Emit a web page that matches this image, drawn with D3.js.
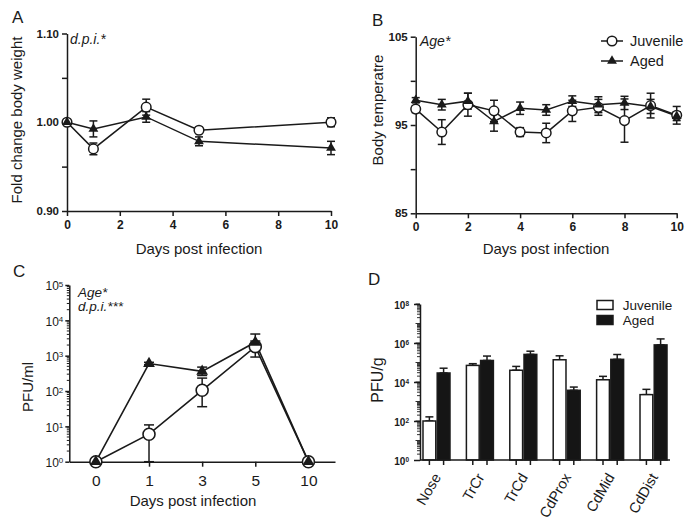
<!DOCTYPE html>
<html><head><meta charset="utf-8">
<script src="https://cdn.jsdelivr.net/npm/d3@7"></script>
<style>
body{margin:0;background:#fff}
svg{display:block}
text{font-family:"Liberation Sans",Arial,Helvetica,sans-serif;fill:#1a1a1a}
</style>
</head><body><svg id="c" width="685" height="523"></svg>
<script>
// ---------------- DATA ----------------
const weightDays = [0, 1, 3, 5, 10];
const weightJuvenile = [1.000, 0.970, 1.017, 0.991, 1.000];
const weightJuvenileErr = [0.002, 0.0066, 0.009, 0.003, 0.005];
const weightAged = [1.000, 0.9925, 1.006, 0.9785, 0.971];
const weightAgedErr = [0.002, 0.009, 0.006, 0.005, 0.0075];
const weightTicksX = [0, 2, 4, 6, 8, 10];
const weightTicksY = [0.90, 0.95, 1.00, 1.05, 1.10];
const weightLabelsY = ["0.90", "", "1.00", "", "1.10"];

const tempDays = [0, 1, 2, 3, 4, 5, 6, 7, 8, 9, 10];
const tempJuvenile = [96.8, 94.2, 97.3, 96.6, 94.2, 94.1, 96.6, 97.0, 95.5, 97.2, 96.1];
const tempJuvenileErr = [0.4, 1.4, 1.3, 1.2, 0.5, 1.1, 1.2, 0.9, 2.45, 1.4, 1.0];
const tempAged = [97.8, 97.3, 97.7, 95.4, 96.9, 96.7, 97.7, 97.3, 97.5, 97.1, 96.0];
const tempAgedErr = [0.3, 0.6, 0.9, 1.1, 0.7, 0.6, 0.6, 0.9, 0.75, 0.8, 0.5];
const tempTicksX = [0, 2, 4, 6, 8, 10];
const tempTicksY = [85, 90, 95, 100, 105];
const tempLabelsY = ["85", "", "95", "", "105"];

const pfuDays = ["0", "1", "3", "5", "10"];
const pfuJuvenile = [1, 6, 105, 1800, 1];
const pfuJuvenileLo = [1, 1, 36, 915, 1];
const pfuJuvenileHi = [1, 11, 232, 2600, 1];
const pfuAged = [1, 600, 360, 2400, 1];
const pfuAgedLo = [1, 560, 275, 1500, 1];
const pfuAgedHi = [1, 650, 475, 4100, 1];
const pfuDecades = [0, 1, 2, 3, 4, 5];

const organs = ["Nose", "TrCr", "TrCd", "CdProx", "CdMid", "CdDist"];
const organJuvenile = [100, 71000, 40000, 138000, 13000, 2250];
const organJuvenileHi = [163, 87000, 63000, 220000, 19500, 4200];
const organAged = [29000, 127000, 260000, 3750, 145000, 800000];
const organAgedHi = [51000, 214000, 380000, 5500, 257000, 1620000];
const organDecades = [0, 2, 4, 6, 8];
const groups = ["Juvenile", "Aged"];

// ---------------- HELPERS ----------------
const svg = d3.select("#c");
const INK = "#1a1a1a";

function styleAxis(sel, fontSize, weight) {
  sel.select(".domain").attr("stroke", INK).attr("stroke-width", 1.5);
  sel.selectAll(".tick line").attr("stroke", INK).attr("stroke-width", 1.5);
  sel.selectAll(".tick text").attr("font-size", fontSize).attr("font-weight", weight)
     .attr("fill", INK).attr("font-family", '"Liberation Sans",Arial,sans-serif');
}
function label(x, y, s, opt = {}) {
  const t = svg.append("text").attr("x", x).attr("y", y).text(s)
    .attr("font-size", opt.size || 15)
    .attr("text-anchor", opt.anchor || "start");
  if (opt.italic) t.attr("font-style", "italic");
  if (opt.weight) t.attr("font-weight", opt.weight);
  if (opt.rotate !== undefined) t.attr("transform", `rotate(${opt.rotate},${x},${y})`);
  return t;
}
function errBar(g, x, y1, y2, cap) {
  g.append("line").attr("x1", x).attr("x2", x).attr("y1", y1).attr("y2", y2)
    .attr("stroke", INK).attr("stroke-width", 1.5);
  [y1, y2].forEach(yy => g.append("line").attr("x1", x - cap / 2).attr("x2", x + cap / 2)
    .attr("y1", yy).attr("y2", yy).attr("stroke", INK).attr("stroke-width", 1.5));
}
function supLabels(sel, fs, sfs) {
  sel.selectAll(".tick text").each(function (d) {
    const e = Math.round(Math.log10(d));
    const t = d3.select(this).text("");
    t.append("tspan").text("10");
    t.append("tspan").attr("dy", "-0.45em").attr("font-size", sfs).text(e);
  });
}

// ---------------- LINE PANELS (A, B) ----------------
function linePanel(cfg) {
  const g = svg.append("g");
  const x = d3.scaleLinear(cfg.xDomain, cfg.xRange);
  const y = d3.scaleLinear(cfg.yDomain, cfg.yRange);
  const ax = g.append("g").attr("transform", `translate(0,${cfg.yRange[0]})`)
    .call(d3.axisBottom(x).tickValues(cfg.xTicks).tickSize(5).tickSizeOuter(0).tickPadding(4));
  styleAxis(ax, 12, "bold");
  const ay = g.append("g").attr("transform", `translate(${cfg.xRange[0]},0)`)
    .call(d3.axisLeft(y).tickValues(cfg.yTicks).tickFormat((d, i) => cfg.yLabels[i])
      .tickSize(5).tickSizeOuter(0).tickPadding(3));
  styleAxis(ay, 11.5, "bold");
  const line = d3.line().x((d, i) => x(cfg.days[i])).y(d => y(d));
  [cfg.juv, cfg.aged].forEach(vals => g.append("path").datum(vals).attr("d", line)
    .attr("fill", "none").attr("stroke", INK).attr("stroke-width", 1.5));
  cfg.days.forEach((d, i) => {
    errBar(g, x(d), y(cfg.juv[i] - cfg.juvErr[i]), y(cfg.juv[i] + cfg.juvErr[i]), 8);
    errBar(g, x(d), y(cfg.aged[i] - cfg.agedErr[i]), y(cfg.aged[i] + cfg.agedErr[i]), 8);
  });
  g.selectAll(null).data(cfg.juv).join("circle")
    .attr("cx", (d, i) => x(cfg.days[i])).attr("cy", d => y(d)).attr("r", 4.8)
    .attr("fill", "#fff").attr("stroke", INK).attr("stroke-width", 1.5);
  g.selectAll(null).data(cfg.aged).join("path")
    .attr("d", d3.symbol(d3.symbolTriangle, 42))
    .attr("transform", (d, i) => `translate(${x(cfg.days[i])},${y(d)})`)
    .attr("fill", INK);
  return { x, y };
}

linePanel({
  xDomain: [0, 10], xRange: [67, 331], yDomain: [0.9, 1.1], yRange: [211, 33.5],
  xTicks: weightTicksX, yTicks: weightTicksY, yLabels: weightLabelsY,
  days: weightDays, juv: weightJuvenile, juvErr: weightJuvenileErr,
  aged: weightAged, agedErr: weightAgedErr
});
label(12, 23, "A", { size: 17 });
label(70, 44, "d.p.i.*", { size: 14, italic: true });
label(199, 254, "Days post infection", { size: 15, anchor: "middle" });
label(22, 120, "Fold change body weight", { size: 15, anchor: "middle", rotate: -90 });

linePanel({
  xDomain: [0, 10], xRange: [415.7, 676.7], yDomain: [85, 105], yRange: [213.3, 36.7],
  xTicks: tempTicksX, yTicks: tempTicksY, yLabels: tempLabelsY,
  days: tempDays, juv: tempJuvenile, juvErr: tempJuvenileErr,
  aged: tempAged, agedErr: tempAgedErr
});
label(372, 26, "B", { size: 17 });
label(420, 46, "Age*", { size: 14, italic: true });
label(546, 254, "Days post infection", { size: 15, anchor: "middle" });
label(383, 110, "Body temperatre", { size: 15, anchor: "middle", rotate: -90 });
// legend B
[["Juvenile", 41], ["Aged", 61]].forEach(([name, yy], k) => {
  svg.append("line").attr("x1", 601).attr("x2", 623).attr("y1", yy).attr("y2", yy)
    .attr("stroke", INK).attr("stroke-width", 1.5);
  if (k === 0) svg.append("circle").attr("cx", 612).attr("cy", yy).attr("r", 4.8)
    .attr("fill", "#fff").attr("stroke", INK).attr("stroke-width", 1.5);
  else svg.append("path").attr("d", d3.symbol(d3.symbolTriangle, 42)())
    .attr("transform", `translate(612,${yy})`).attr("fill", INK);
  label(630, yy + 5, name, { size: 14.5 });
});

// ---------------- PANEL C ----------------
(function () {
  const g = svg.append("g");
  const x = d3.scalePoint(pfuDays, [69.3, 335]).padding(0.5);
  const y = d3.scaleLog([1, 1e5], [461.7, 285]);
  const ax = g.append("g").attr("transform", "translate(0,461.7)")
    .call(d3.axisBottom(x).tickSize(5).tickSizeOuter(0).tickPadding(8));
  styleAxis(ax, 15.5, "normal");
  const ay = g.append("g").attr("transform", "translate(69.3,0)")
    .call(d3.axisLeft(y).tickValues(pfuDecades.map(d => Math.pow(10, d))).tickSize(4).tickSizeOuter(0).tickPadding(2));
  styleAxis(ay, 12, "normal");
  supLabels(ay, 12, 8);
  ay.selectAll(".tick text").attr("dy", "0.4em");
  pfuDecades.slice(0, -1).forEach(dec => {
    d3.range(2, 10).forEach(k => {
      const yy = y(k * Math.pow(10, dec));
      g.append("line").attr("x1", 69.3 - 2.5).attr("x2", 69.3).attr("y1", yy).attr("y2", yy)
        .attr("stroke", INK).attr("stroke-width", 1);
    });
  });
  const line = d3.line().x((d, i) => x(pfuDays[i])).y(d => y(d));
  [pfuJuvenile, pfuAged].forEach(vals => g.append("path").datum(vals).attr("d", line)
    .attr("fill", "none").attr("stroke", INK).attr("stroke-width", 1.6));
  pfuDays.forEach((d, i) => {
    if (pfuJuvenileHi[i] > pfuJuvenileLo[i]) errBar(g, x(d), y(pfuJuvenileLo[i]), y(pfuJuvenileHi[i]), 10);
    if (pfuAgedHi[i] > pfuAgedLo[i]) errBar(g, x(d), y(pfuAgedLo[i]), y(pfuAgedHi[i]), 10);
  });
  g.selectAll(null).data(pfuJuvenile).join("circle")
    .attr("cx", (d, i) => x(pfuDays[i])).attr("cy", d => y(d)).attr("r", 6)
    .attr("fill", "#fff").attr("stroke", INK).attr("stroke-width", 1.6);
  g.selectAll(null).data(pfuAged).join("path")
    .attr("d", d3.symbol(d3.symbolTriangle, 60))
    .attr("transform", (d, i) => `translate(${x(pfuDays[i])},${y(d)})`)
    .attr("fill", INK);
})();
label(13, 277, "C", { size: 17 });
label(78, 297, "Age*", { size: 13.5, italic: true });
label(78, 311, "d.p.i.***", { size: 13.5, italic: true });
label(193, 506, "Days post infection", { size: 15, anchor: "middle" });
label(33, 387, "PFU/ml", { size: 15, anchor: "middle", rotate: -90 });

// ---------------- PANEL D ----------------
(function () {
  const g = svg.append("g");
  const x0 = d3.scaleBand(organs, [420, 670]).paddingInner(0.378).paddingOuter(0.069);
  const x1 = d3.scaleBand(groups, [0, x0.bandwidth()]).paddingInner(0.1);
  const y = d3.scaleLog([1, 1e8], [460, 304]);
  const vals = { Juvenile: organJuvenile, Aged: organAged };
  const his = { Juvenile: organJuvenileHi, Aged: organAgedHi };
  organs.forEach((o, i) => {
    groups.forEach(gr => {
      const bx = x0(o) + x1(gr), bw = x1.bandwidth();
      const v = vals[gr][i], h = his[gr][i];
      errBar(g, bx + bw / 2, y(v), y(h), 8);
      g.append("rect").attr("x", bx).attr("width", bw).attr("y", y(v)).attr("height", 460 - y(v))
        .attr("fill", gr === "Juvenile" ? "#fff" : "#151515")
        .attr("stroke", INK).attr("stroke-width", 1.5);
      g.append("line").attr("x1", bx + bw / 2).attr("x2", bx + bw / 2).attr("y1", 460).attr("y2", 465)
        .attr("stroke", INK).attr("stroke-width", 1.5);
    });
    const cx = x0(o) + x0.bandwidth() / 2 + 5;
    g.append("text").attr("x", cx).attr("y", 477).attr("text-anchor", "end")
      .attr("font-size", 14.5).attr("transform", `rotate(-60,${cx},477)`).text(o);
  });
  g.append("line").attr("x1", 420).attr("x2", 670).attr("y1", 460).attr("y2", 460)
    .attr("stroke", INK).attr("stroke-width", 1.5);
  const ay = g.append("g").attr("transform", "translate(420,0)")
    .call(d3.axisLeft(y).tickValues(organDecades.map(d => Math.pow(10, d))).tickSize(6).tickSizeOuter(0).tickPadding(5));
  styleAxis(ay, 10, "bold");
  supLabels(ay, 10, 6.5);
  ay.selectAll(".tick text").attr("dy", "0.4em");
  d3.range(0, 8).forEach(dec => {
    d3.range(2, 11).forEach(k => {
      const yy = y(k * Math.pow(10, dec));
      g.append("line").attr("x1", 420 - (k === 10 ? 4.5 : 3)).attr("x2", 420).attr("y1", yy).attr("y2", yy)
        .attr("stroke", INK).attr("stroke-width", 0.9);
    });
  });
  // legend
  [["Juvenile", 300.5, "#fff"], ["Aged", 315.5, "#151515"]].forEach(([name, yy, fill]) => {
    g.append("rect").attr("x", 597).attr("y", yy).attr("width", 16).attr("height", 9)
      .attr("fill", fill).attr("stroke", INK).attr("stroke-width", 1.5);
    g.append("text").attr("x", 622.7).attr("y", yy + 9.5).attr("font-size", 13.5).text(name);
  });
})();
label(368, 285, "D", { size: 17 });
label(383, 380, "PFU/g", { size: 16, anchor: "middle", rotate: -90 });
</script></body></html>
